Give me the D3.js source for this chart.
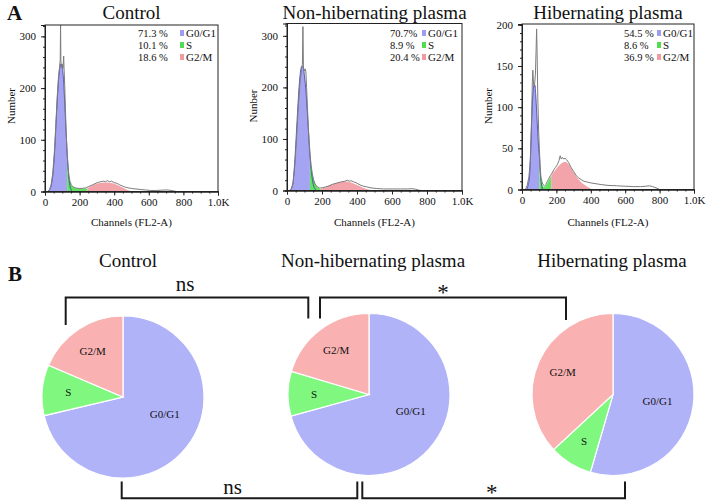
<!DOCTYPE html>
<html><head><meta charset="utf-8">
<script src="https://cdn.jsdelivr.net/npm/d3@7"></script>
<style>
body{margin:0;background:#fff}
svg{display:block}
text{font-family:"Liberation Serif","Times New Roman",serif;fill:#111}
</style>
</head><body><svg id="c" width="709" height="504"></svg>
<script>
// ---------- DATA ----------
const phases = ["G0/G1", "S", "G2/M"];
const groups = ["Control", "Non-hibernating plasma", "Hibernating plasma"];
const yLabels = ["Number", "Nunber", "Number"];
const pctText = [["71.3 %", "10.1 %", "18.6 %"], ["70.7%", "8.9 %", "20.4 %"], ["54.5 %", "8.6 %", "36.9 %"]];
const pctValues = [[71.3, 10.1, 18.6], [70.7, 8.9, 20.4], [54.5, 8.6, 36.9]];
const xTicks = [0, 200, 400, 600, 800, 1000];
const yTicksCtrl = [0, 100, 200, 300];
const yTicksNh = [0, 100, 200, 300];
const yTicksHib = [0, 50, 100, 150, 200];
const yMax = [322, 324, 201];

// raw histograms [channel, count]
const ctrlRaw = [[0,0],[15,0],[25,3],[35,12],[45,35],[55,80],[62,125],[70,180],[78,222],[84,240],[88,255],[90,322],[92,250],[96,240],[100,246],[104,238],[108,262],[110,240],[114,205],[118,160],[122,118],[126,88],[130,66],[134,46],[138,32],[144,20],[152,13],[162,9],[175,7],[195,6],[215,6],[235,7],[255,10],[275,13],[295,16],[310,18],[325,19],[340,20],[350,19],[360,21],[372,19],[385,20],[400,17],[415,16],[430,13],[445,11],[460,9],[480,7],[500,6],[520,5],[550,4],[580,3],[610,2],[640,2],[670,2.5],[700,3],[720,2.5],[745,1],[760,0],[1000,0]];
const nhRaw = [[0,0],[15,0],[25,3],[35,15],[45,50],[55,105],[65,165],[75,212],[83,235],[88,245],[91,318],[94,238],[99,232],[104,236],[108,230],[112,200],[117,160],[122,122],[127,95],[132,70],[138,48],[145,32],[152,21],[160,13],[170,8],[185,5],[200,5],[220,7],[240,9],[260,12],[280,14],[300,16],[315,17],[330,18],[345,20],[355,18],[365,19],[380,17],[395,15],[410,12],[430,9],[455,7],[480,5],[510,4],[550,3],[600,3],[650,3],[690,3],[715,3.5],[735,2.5],[750,1],[765,0],[1000,0]];
const hibRaw = [[0,0],[20,0],[30,5],[40,15],[48,35],[55,80],[60,130],[63,145],[67,128],[72,125],[78,140],[82,170],[85,195],[88,165],[92,110],[97,70],[101,50],[105,30],[110,15],[118,8],[125,5],[130,4],[138,6],[145,9],[155,13],[165,17],[175,20],[185,24],[195,27],[205,30],[215,35],[222,41],[228,37],[235,39],[242,37],[250,38],[260,36],[270,33],[285,27],[300,22],[315,17],[330,14],[345,12],[360,10],[380,9],[400,8],[430,7],[460,6],[500,5],[550,4.5],[600,4],[650,3.5],[690,3.5],[720,4],[740,4.5],[760,3.5],[785,1.5],[800,0],[1000,0]];

// model components [channel, count]
const ctrlG1 = [[15,0],[25,3],[35,11],[45,32],[55,74],[65,140],[75,200],[85,238],[93,247],[100,240],[108,212],[115,165],[122,115],[128,74],[134,42],[140,20],[148,6],[158,0]];
const ctrlS = [[128,74],[132,55],[136,38],[142,24],[150,14],[160,9],[175,7],[200,6],[225,6],[245,6]];
const ctrlG2 = [[245,6],[260,9],[280,13],[300,15],[320,16.5],[345,17.5],[370,17],[395,15.5],[420,12],[445,8],[470,4],[500,0]];
const ctrlCut = [128, 245];

const nhG1 = [[15,0],[25,4],[35,18],[45,60],[55,120],[65,180],[75,225],[85,241],[92,240],[100,222],[110,185],[120,130],[131,68],[140,35],[150,12],[160,3],[170,0]];
const nhS = [[131,68],[138,45],[145,30],[150,24],[160,14],[170,8],[180,5],[192,3]];
const nhG2 = [[192,3],[210,5],[230,8],[250,11],[270,13],[290,15],[310,16.5],[330,17.5],[350,17],[370,15],[390,12],[410,9],[430,6],[455,3],[490,0]];
const nhCut = [131, 192];

const hibG1 = [[25,0],[35,5],[45,20],[52,55],[58,95],[64,118],[70,127],[75,127],[80,115],[86,92],[92,68],[97,50],[101,42],[106,22],[112,8],[120,0]];
const hibS = [[101,42],[104,30],[108,18],[113,10],[120,5],[128,3],[135,4],[145,7],[155,11],[163,14],[170,17]];
const hibG2 = [[170,17],[180,20],[195,24],[210,28],[225,31],[240,33],[255,33.5],[270,31],[285,26],[300,21],[315,16],[330,12],[345,8.5],[360,6],[375,4],[390,2],[410,0]];
const hibCut = [101, 170];

// significance annotations between pies
const sigTop = [{from: 0, to: 1, label: "ns"}, {from: 1, to: 2, label: "*"}];
const sigBottom = [{from: 0, to: 1, label: "ns"}, {from: 1, to: 2, label: "*"}];

// ---------- STYLE / LAYOUT ----------
const histColors = {g1: "#a4a4f2", g1Line: "#3c3ca8", s: "#62e262", g2: "#f2a4aa", raw: "#7c7c7c"};
const swatch = ["#9c9cf0", "#52dc52", "#f09aa2"];
const pieColors = ["#b1b3f9", "#80f880", "#f9b1b1"];
const serif = '"Liberation Serif","Times New Roman",serif';

const panelBoxes = [
  {left: 45, right: 218, top: 25, bottom: 191.5, legX: 93},
  {left: 287, right: 462, top: 23.5, bottom: 190.5, legX: 103},
  {left: 522, right: 694, top: 24, bottom: 189.5, legX: 102}
];
const panelData = [
  {raw: ctrlRaw, g1: ctrlG1, s: ctrlS, g2: ctrlG2, cut: ctrlCut, yt: yTicksCtrl, minor: 20},
  {raw: nhRaw, g1: nhG1, s: nhS, g2: nhG2, cut: nhCut, yt: yTicksNh, minor: 20},
  {raw: hibRaw, g1: hibG1, s: hibS, g2: hibG2, cut: hibCut, yt: yTicksHib, minor: 10}
];

const svg = d3.select("#c");
svg.append("rect").attr("width", 709).attr("height", 504).attr("fill", "#fff");

// Panel letters
svg.append("text").attr("x", 7).attr("y", 20).attr("font-size", 21).attr("font-weight", "bold").text("A");
svg.append("text").attr("x", 8).attr("y", 281).attr("font-size", 21).attr("font-weight", "bold").text("B");

// ---------- PANEL A: histograms ----------
panelData.forEach((pd, i) => {
  const b = panelBoxes[i];
  const x = d3.scaleLinear().domain([0, 1000]).range([b.left, b.right]);
  const y = d3.scaleLinear().domain([0, yMax[i]]).range([b.bottom, b.top]);
  const g = svg.append("g");
  const cid = "clip" + i;
  svg.append("clipPath").attr("id", cid).append("rect")
    .attr("x", b.left).attr("y", b.top).attr("width", b.right - b.left).attr("height", b.bottom - b.top);
  const pg = g.append("g").attr("clip-path", `url(#${cid})`);

  const area = d3.area().x(d => x(d[0])).y0(y(0)).y1(d => y(d[1])).curve(d3.curveMonotoneX);
  const line = d3.line().x(d => x(d[0])).y(d => y(d[1]));
  const smooth = d3.line().x(d => x(d[0])).y(d => y(d[1])).curve(d3.curveMonotoneX);

  pg.append("path").attr("d", area(pd.g1.filter(d => d[0] <= pd.cut[0]))).attr("fill", histColors.g1);
  pg.append("path").attr("d", area(pd.s)).attr("fill", histColors.s);
  pg.append("path").attr("d", area(pd.g2)).attr("fill", histColors.g2);
  pg.append("path").attr("d", smooth(pd.g1)).attr("fill", "none").attr("stroke", histColors.g1Line).attr("stroke-width", 0.8);
  pg.append("path").attr("d", line(pd.raw)).attr("fill", "none").attr("stroke", histColors.raw).attr("stroke-width", 1);

  // frame
  g.append("rect").attr("x", b.left).attr("y", b.top).attr("width", b.right - b.left).attr("height", b.bottom - b.top)
    .attr("fill", "none").attr("stroke", "#222").attr("stroke-width", 1);

  // x axis
  const xa = g.append("g").attr("transform", `translate(0,${b.bottom})`)
    .call(d3.axisBottom(x).tickValues(xTicks).tickSize(4).tickPadding(3).tickFormat(d => d === 1000 ? "1.0K" : d));
  g.append("g").attr("transform", `translate(0,${b.bottom})`)
    .call(d3.axisBottom(x).tickValues(d3.range(0, 1001, 50)).tickSize(2).tickFormat(""));
  // y axis
  const ya = g.append("g").attr("transform", `translate(${b.left},0)`)
    .call(d3.axisLeft(y).tickValues(pd.yt).tickSize(4).tickPadding(5));
  g.append("g").attr("transform", `translate(${b.left},0)`)
    .call(d3.axisLeft(y).tickValues(d3.range(0, yMax[i], pd.minor)).tickSize(2).tickFormat(""));
  g.selectAll(".domain").attr("stroke", "#222");
  g.selectAll(".tick line").attr("stroke", "#222");
  g.selectAll(".tick text").attr("font-family", serif).attr("font-size", 11).attr("fill", "#111");

  // titles and labels
  g.append("text").attr("x", (b.left + b.right) / 2).attr("y", 18.5).attr("text-anchor", "middle")
    .attr("font-size", 19).text(groups[i]);
  g.append("text").attr("transform", `translate(${b.left - 30},106) rotate(-90)`).attr("text-anchor", "middle")
    .attr("font-size", 11).text(yLabels[i]);
  g.append("text").attr("x", (b.left + b.right) / 2).attr("y", 225.5).attr("text-anchor", "middle")
    .attr("font-size", 11).text("Channels (FL2-A)");

  // legend
  phases.forEach((p, k) => {
    const cy = 33 + k * 12;
    g.append("text").attr("x", b.left + b.legX).attr("y", cy + 4).attr("font-size", 10.5).text(pctText[i][k]);
    g.append("rect").attr("x", b.left + 135).attr("y", cy - 3).attr("width", 4).attr("height", 6).attr("fill", swatch[k]);
    g.append("text").attr("x", b.left + 141).attr("y", cy + 4).attr("font-size", 11).text(p);
  });
});

// ---------- PANEL B: pies ----------
const pieCenters = [[123, 397], [369, 394.5], [613, 394.5]];
const R = 81;
const pie = d3.pie().sort(null).value(d => d.v);
const arc = d3.arc().innerRadius(0).outerRadius(R);

pctValues.forEach((vals, i) => {
  const [cx, cy] = pieCenters[i];
  svg.append("text").attr("x", cx + (i === 0 ? 5 : (i === 1 ? 4 : -1))).attr("y", 267).attr("text-anchor", "middle")
    .attr("font-size", 19).text(groups[i]);
  const g = svg.append("g").attr("transform", `translate(${cx},${cy})`);
  const arcs = pie(vals.map((v, k) => ({v, name: phases[k]})));
  g.selectAll("path").data(arcs).join("path").attr("d", arc)
    .attr("fill", (d, k) => pieColors[k]).attr("stroke", "#fff").attr("stroke-width", 1.2);
  g.selectAll("text").data(arcs).join("text")
    .attr("text-anchor", "middle").attr("font-size", 11)
    .attr("transform", (d, k) => {
      let a = (d.startAngle + d.endAngle) / 2;
      let rr = 55;
      if (k === 0) { a = Math.min(a, 112 * Math.PI / 180); rr = 45; }
      return `translate(${rr * Math.sin(a)},${-rr * Math.cos(a) + 4})`;
    })
    .text(d => d.data.name);
});

// significance brackets
const br = svg.append("g").attr("fill", "none").attr("stroke", "#1a1a1a").attr("stroke-width", 2);
const topLegs = [[65.7, 308.3, 325, 318.5], [320, 566, 318.5, 320]];
sigTop.forEach((s, k) => {
  const [x1, x2, b1, b2] = topLegs[k];
  br.append("path").attr("d", `M${x1},${b1}V297.5H${x2}V${b2}`);
  svg.append("text").attr("x", (x1 + x2) / 2 + (k === 0 ? -2 : 0)).attr("y", s.label === "*" ? 300 : 290.5)
    .attr("text-anchor", "middle").attr("font-size", s.label === "*" ? 23 : 21).text(s.label);
});
const botLegs = [[121.7, 357.3], [362.3, 625]];
sigBottom.forEach((s, k) => {
  const [x1, x2] = botLegs[k];
  br.append("path").attr("d", `M${x1},481.5V498.3H${x2}V481.5`);
  svg.append("text").attr("x", (x1 + x2) / 2 + (k === 0 ? -7 : -2)).attr("y", s.label === "*" ? 500 : 494)
    .attr("text-anchor", "middle").attr("font-size", s.label === "*" ? 23 : 21).text(s.label);
});
</script>
</body></html>
